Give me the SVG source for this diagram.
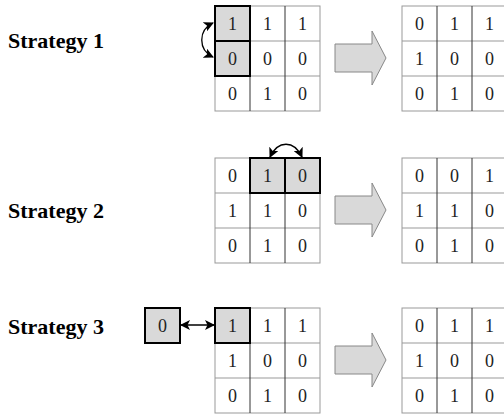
<svg xmlns="http://www.w3.org/2000/svg" width="504" height="417" viewBox="0 0 504 417">
<defs>
<style>
.lbl{font-family:'Liberation Serif',Tinos,'Times New Roman',Times,serif;font-weight:700;font-size:22px;fill:#000}
.num{font-family:'Liberation Serif',Tinos,'Times New Roman',Times,serif;font-size:18px;fill:#222;text-anchor:middle}
.cell{fill:#fff;stroke:#999;stroke-width:1}
.vline{stroke:#333;stroke-width:1}
.hl{fill:#d9d9d9;stroke:#000;stroke-width:2}
.big{fill:#d9d9d9;stroke:#888;stroke-width:1}
.con{fill:none;stroke:#000;stroke-width:1.3}
</style>
<marker id="ah" viewBox="0 0 10 10" refX="9" refY="5" markerWidth="10" markerHeight="10" orient="auto-start-reverse" markerUnits="userSpaceOnUse">
<path d="M0,0 L10,5 L0,10 L2.5,5 Z" fill="#000"/>
</marker>
<g id="grid">
<rect class="cell" x="0" y="0" width="105" height="105"/>
<line class="cell" x1="0" y1="35" x2="105" y2="35"/>
<line class="cell" x1="0" y1="70" x2="105" y2="70"/>
<line class="vline" x1="35" y1="0" x2="35" y2="105"/>
<line class="vline" x1="70" y1="0" x2="70" y2="105"/>
</g>
<path id="bigarrow" class="big" d="M0,-14 L37,-14 L37,-27 L51,0 L37,27 L37,14 L0,14 Z"/>
</defs>

<text class="lbl" x="8" y="48" font-family="Liberation Serif, serif">Strategy 1</text>
<text class="lbl" x="8" y="218" font-family="Liberation Serif, serif">Strategy 2</text>
<text class="lbl" x="8" y="334" font-family="Liberation Serif, serif">Strategy 3</text>

<!-- Strategy 1 -->
<g id="s1-left">
<use href="#grid" x="215" y="6"/>
<rect class="hl" x="215" y="6" width="35" height="35"/>
<rect class="hl" x="215" y="41" width="35" height="35"/>
<text class="num" x="232.5" y="30">1</text><text class="num" x="267.5" y="30">1</text><text class="num" x="302.5" y="30">1</text>
<text class="num" x="232.5" y="65">0</text><text class="num" x="267.5" y="65">0</text><text class="num" x="302.5" y="65">0</text>
<text class="num" x="232.5" y="100">0</text><text class="num" x="267.5" y="100">1</text><text class="num" x="302.5" y="100">0</text>
</g>
<g id="s1-arrow"><use href="#bigarrow" x="335" y="58"/></g>
<g id="s1-right">
<use href="#grid" x="402" y="6"/>
<text class="num" x="419.5" y="30">0</text><text class="num" x="454.5" y="30">1</text><text class="num" x="489.5" y="30">1</text>
<text class="num" x="419.5" y="65">1</text><text class="num" x="454.5" y="65">0</text><text class="num" x="489.5" y="65">0</text>
<text class="num" x="419.5" y="100">0</text><text class="num" x="454.5" y="100">1</text><text class="num" x="489.5" y="100">0</text>
</g>

<!-- Strategy 2 -->
<g id="s2-left">
<use href="#grid" x="215" y="158"/>
<rect class="hl" x="250" y="158" width="35" height="35"/>
<rect class="hl" x="285" y="158" width="35" height="35"/>
<text class="num" x="232.5" y="182">0</text><text class="num" x="267.5" y="182">1</text><text class="num" x="302.5" y="182">0</text>
<text class="num" x="232.5" y="217">1</text><text class="num" x="267.5" y="217">1</text><text class="num" x="302.5" y="217">0</text>
<text class="num" x="232.5" y="252">0</text><text class="num" x="267.5" y="252">1</text><text class="num" x="302.5" y="252">0</text>
</g>
<g id="s2-arrow"><use href="#bigarrow" x="335" y="210"/></g>
<g id="s2-right">
<use href="#grid" x="402" y="158"/>
<text class="num" x="419.5" y="182">0</text><text class="num" x="454.5" y="182">0</text><text class="num" x="489.5" y="182">1</text>
<text class="num" x="419.5" y="217">1</text><text class="num" x="454.5" y="217">1</text><text class="num" x="489.5" y="217">0</text>
<text class="num" x="419.5" y="252">0</text><text class="num" x="454.5" y="252">1</text><text class="num" x="489.5" y="252">0</text>
</g>

<!-- Strategy 3 -->
<g id="s3-box">
<rect class="hl" x="145" y="308" width="35" height="35"/>
<text class="num" x="162.5" y="332">0</text>
</g>
<g id="s3-left">
<use href="#grid" x="215" y="308"/>
<rect class="hl" x="215" y="308" width="35" height="35"/>
<text class="num" x="232.5" y="332">1</text><text class="num" x="267.5" y="332">1</text><text class="num" x="302.5" y="332">1</text>
<text class="num" x="232.5" y="367">1</text><text class="num" x="267.5" y="367">0</text><text class="num" x="302.5" y="367">0</text>
<text class="num" x="232.5" y="402">0</text><text class="num" x="267.5" y="402">1</text><text class="num" x="302.5" y="402">0</text>
</g>
<g id="s3-arrow"><use href="#bigarrow" x="335" y="360"/></g>
<g id="s3-right">
<use href="#grid" x="402" y="308"/>
<text class="num" x="419.5" y="332">0</text><text class="num" x="454.5" y="332">1</text><text class="num" x="489.5" y="332">1</text>
<text class="num" x="419.5" y="367">1</text><text class="num" x="454.5" y="367">0</text><text class="num" x="489.5" y="367">0</text>
<text class="num" x="419.5" y="402">0</text><text class="num" x="454.5" y="402">1</text><text class="num" x="489.5" y="402">0</text>
</g>

<!-- connectors -->
<g id="connectors">
<path class="con" d="M213,23 C198,30 198,50 213,57" marker-start="url(#ah)" marker-end="url(#ah)"/>
<path class="con" d="M270,157 C278,140 294,140 302,157" marker-start="url(#ah)" marker-end="url(#ah)"/>
<path class="con" d="M181,325 L214,325" marker-start="url(#ah)" marker-end="url(#ah)"/>
</g>
</svg>
